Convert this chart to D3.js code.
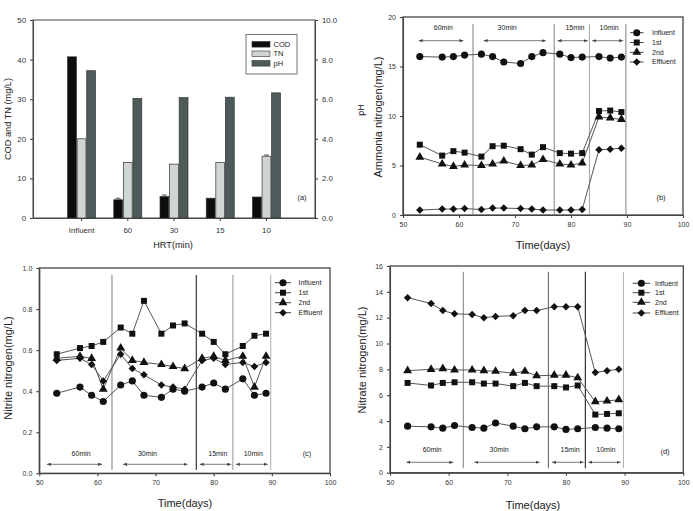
<!DOCTYPE html>
<html>
<head>
<meta charset="utf-8">
<script src="https://cdn.jsdelivr.net/npm/d3@7"></script>
<style>
  body { margin: 0; background: #fff; }
  svg text { font-family: "Liberation Sans", Arial, sans-serif; fill: #222; }
  .ax path, .ax line { stroke: #444; stroke-width: 1.1; }
  .ax text { font-size: 7px; fill: #333; }
  .axa text { font-size: 7.8px; }
</style>
</head>
<body>
<svg id="chart" width="693" height="511"></svg>
<script>
// ---- panel (a) data
const hrtLabels = ['Influent', '60', '30', '15', '10'];
const barSeries = ['COD', 'TN', 'pH'];
const codValues = [40.7, 4.6, 5.4, 5.0, 5.3];
const tnValues = [20.0, 14.0, 13.6, 14.0, 15.6];
const phValues = [7.44, 6.04, 6.08, 6.1, 6.32];
const codErr = [0, 0.4, 0.4, 0, 0];
const tnErr = [0, 0, 0, 0, 0.3];

// ---- time series data (b, c, d)
const days = [53, 57, 59, 61, 64, 66, 68, 71, 73, 75, 78, 80, 82, 85, 87, 89];
const seriesNames = ['Influent', '1st', '2nd', 'Effluent'];

const nh4Influent = [16.0, 15.95, 16.0, 16.15, 16.25, 16.0, 15.45, 15.3, 16.0, 16.4, 16.25, 15.9, 15.95, 16.0, 15.85, 15.95];
const nh4First = [7.1, 6.0, 6.45, 6.3, 5.9, 6.95, 7.0, 6.65, 6.1, 6.85, 6.25, 6.2, 6.25, 10.5, 10.55, 10.4];
const nh4Second = [5.85, 5.15, 4.9, 5.05, 5.0, 5.15, 5.45, 5.0, 5.05, 5.6, 5.15, 5.05, 5.25, 9.9, 9.8, 9.65];
const nh4Effluent = [0.5, 0.6, 0.6, 0.65, 0.55, 0.7, 0.7, 0.65, 0.6, 0.5, 0.5, 0.5, 0.55, 6.6, 6.65, 6.75];

const no2Influent = [0.39, 0.42, 0.38, 0.35, 0.43, 0.45, 0.38, 0.37, 0.41, 0.40, 0.42, 0.44, 0.41, 0.46, 0.38, 0.39];
const no2First = [0.58, 0.61, 0.62, 0.64, 0.71, 0.68, 0.84, 0.68, 0.72, 0.73, 0.68, 0.64, 0.58, 0.62, 0.67, 0.68];
const no2Second = [0.56, 0.57, 0.56, 0.41, 0.61, 0.55, 0.54, 0.53, 0.52, 0.51, 0.56, 0.57, 0.55, 0.57, 0.42, 0.57];
const no2Effluent = [0.55, 0.56, 0.53, 0.45, 0.58, 0.51, 0.48, 0.43, 0.42, 0.41, 0.55, 0.56, 0.53, 0.54, 0.52, 0.54];

const no3Influent = [3.6, 3.55, 3.45, 3.65, 3.5, 3.45, 3.85, 3.6, 3.4, 3.55, 3.55, 3.35, 3.4, 3.5, 3.45, 3.4];
const no3First = [6.95, 6.75, 6.95, 7.0, 7.0, 6.9, 6.9, 6.7, 6.95, 6.7, 6.7, 6.6, 6.75, 4.5, 4.55, 4.6];
const no3Second = [7.9, 8.0, 8.05, 7.95, 7.95, 7.9, 7.85, 7.7, 7.85, 7.5, 7.55, 7.55, 7.35, 5.5, 5.55, 5.65];
const no3Effluent = [13.55, 13.1, 12.55, 12.3, 12.25, 12.0, 12.1, 12.15, 12.55, 12.55, 12.85, 12.85, 12.85, 7.75, 7.9, 8.0];

// HRT periods
const periodBounds = [62.5, 77, 83.3, 89.8];
const periodLabels = ['60min', '30min', '15min', '10min'];
const periodStart = [52.8, 64.4, 77.6, 83.8];
const periodEnd = [60.8, 75.5, 83.0, 89.3];
const periodLabelX = [57.2, 68.6, 80.7, 86.8];

const timeTicks = [50, 60, 70, 80, 90, 100];

const svg = d3.select('#chart');

// arrow heads for the period spans
const defs = svg.append('defs');
['arrEnd', 'arrStart'].forEach((id, i) => {
  defs.append('marker')
    .attr('id', id)
    .attr('viewBox', '0 0 10 10')
    .attr('refX', i === 0 ? 10 : 0).attr('refY', 5)
    .attr('markerWidth', 5).attr('markerHeight', 5)
    .attr('orient', 'auto')
    .append('path')
    .attr('d', i === 0 ? 'M0,1L10,5L0,9z' : 'M10,1L0,5L10,9z')
    .attr('fill', '#444');
});

// ================= panel (a) =================
{
  const box = { left: 33, right: 315, top: 20, bottom: 218 };
  const g = svg.append('g');

  const x = d3.scaleBand().domain(hrtLabels).range([box.left, box.right])
    .paddingInner(0).paddingOuter(0.55);
  const xi = d3.scaleBand().domain(barSeries).range([-14, 14]).paddingInner(0.08);
  const yL = d3.scaleLinear().domain([0, 50]).range([box.bottom, box.top]);
  const yR = d3.scaleLinear().domain([0, 10]).range([box.bottom, box.top]);

  g.append('g').attr('class', 'ax axa')
    .attr('transform', `translate(0,${box.bottom})`)
    .call(d3.axisBottom(x).tickSize(3).tickSizeOuter(0).tickPadding(6));
  g.append('g').attr('class', 'ax axa')
    .attr('transform', `translate(${box.left},0)`)
    .call(d3.axisLeft(yL).tickValues([0, 10, 20, 30, 40, 50]).tickSize(3).tickSizeOuter(0).tickPadding(4));
  g.append('g').attr('class', 'ax axa')
    .attr('transform', `translate(${box.right},0)`)
    .call(d3.axisRight(yR).tickValues([0, 2, 4, 6, 8, 10]).tickFormat(d3.format('.1f')).tickSize(3).tickSizeOuter(0).tickPadding(4));
  g.append('rect')
    .attr('x', box.left).attr('y', box.top)
    .attr('width', box.right - box.left).attr('height', box.bottom - box.top)
    .attr('fill', 'none').attr('stroke', '#555').attr('stroke-width', 1.1);

  const barColors = { COD: '#0c0c0c', TN: '#cfd5d3', pH: '#4e5b5b' };
  const barVals = { COD: codValues, TN: tnValues, pH: phValues };
  const barScale = { COD: yL, TN: yL, pH: yR };

  barSeries.forEach((s) => {
    g.selectAll(null)
      .data(hrtLabels)
      .enter()
      .append('rect')
      .attr('x', (d) => x(d) + x.bandwidth() / 2 + xi(s))
      .attr('y', (d, i) => barScale[s](barVals[s][i]))
      .attr('width', xi.bandwidth())
      .attr('height', (d, i) => box.bottom - barScale[s](barVals[s][i]))
      .attr('fill', barColors[s])
      .attr('stroke', '#333')
      .attr('stroke-width', 0.7);
  });

  // small error bars
  [['COD', codErr, codValues], ['TN', tnErr, tnValues]].forEach(([s, err, vals]) => {
    hrtLabels.forEach((d, i) => {
      if (!err[i]) return;
      const cx = x(d) + x.bandwidth() / 2 + xi(s) + xi.bandwidth() / 2;
      const y1 = yL(vals[i] + err[i]);
      g.append('line').attr('x1', cx).attr('x2', cx)
        .attr('y1', y1).attr('y2', yL(vals[i])).attr('stroke', '#555');
      g.append('line').attr('x1', cx - 2.5).attr('x2', cx + 2.5)
        .attr('y1', y1).attr('y2', y1).attr('stroke', '#555');
    });
  });

  // legend
  g.append('rect').attr('x', 246).attr('y', 34.5).attr('width', 51).attr('height', 39.5)
    .attr('fill', '#fff').attr('stroke', '#666').attr('stroke-width', 0.9);
  barSeries.forEach((s, i) => {
    const ry = 44.3 + i * 9.5;
    g.append('rect').attr('x', 252).attr('y', ry - 2.8).attr('width', 18).attr('height', 5.6)
      .attr('fill', barColors[s]).attr('stroke', '#333').attr('stroke-width', 0.6);
    g.append('text').attr('x', 273.5).attr('y', ry).attr('dy', '0.35em')
      .style('font-size', '7.5px').text(s);
  });

  g.append('text').attr('x', 302).attr('y', 197).attr('text-anchor', 'middle')
    .attr('dy', '0.35em').style('font-size', '7.5px').text('(a)');
  g.append('text').attr('x', 173).attr('y', 248).attr('text-anchor', 'middle')
    .style('font-size', '9.2px').text('HRT(min)');
  g.append('text').attr('transform', 'translate(8,119) rotate(-90)')
    .attr('text-anchor', 'middle').attr('dy', '0.35em')
    .style('font-size', '9.2px').text('COD and TN (mg/L)');
}

// ================= time series panels =================
const symbolTypes = [d3.symbolCircle, d3.symbolSquare, d3.symbolTriangle, d3.symbolSquare];
const symbolSizes = [40, 36, 34, 28];
const symbolRotate = [0, 0, 0, 45];

function marker(g, sIdx, px, py) {
  g.append('path')
    .attr('d', d3.symbol().type(symbolTypes[sIdx]).size(symbolSizes[sIdx])())
    .attr('transform', `translate(${px},${py}) rotate(${symbolRotate[sIdx]})`)
    .attr('fill', '#111');
}

function linePanel(cfg) {
  const { box } = cfg;
  const g = svg.append('g');
  const x = d3.scaleLinear().domain([50, 100]).range([box.left, box.right]);
  const y = d3.scaleLinear().domain(cfg.yDomain).range([box.bottom, box.top]);

  g.append('g').attr('class', 'ax')
    .attr('transform', `translate(0,${box.bottom})`)
    .call(d3.axisBottom(x).tickValues(timeTicks).tickSize(3).tickSizeOuter(0).tickPadding(4));
  g.append('g').attr('class', 'ax')
    .attr('transform', `translate(${box.left},0)`)
    .call(d3.axisLeft(y).tickValues(cfg.yTicks).tickFormat(cfg.yFormat).tickSize(3).tickSizeOuter(0).tickPadding(4));
  g.append('rect')
    .attr('x', box.left).attr('y', box.top)
    .attr('width', box.right - box.left).attr('height', box.bottom - box.top)
    .attr('fill', 'none').attr('stroke', '#444').attr('stroke-width', 1.3);

  // HRT boundaries
  g.selectAll(null).data(periodBounds).enter().append('line')
    .attr('x1', (d) => x(d)).attr('x2', (d) => x(d))
    .attr('y1', cfg.vTop).attr('y2', cfg.vBottom)
    .attr('stroke', (d, i) => cfg.vColors[i]).attr('stroke-width', 1.1);

  // period labels and arrows
  periodLabels.forEach((lab, i) => {
    g.append('text').attr('x', x(periodLabelX[i])).attr('y', cfg.labelY)
      .attr('text-anchor', 'middle').attr('dy', '0.35em')
      .style('font-size', '7px').text(lab);
    g.append('line')
      .attr('x1', x(i === 0 && cfg.firstStart ? cfg.firstStart : periodStart[i]))
      .attr('x2', x(periodEnd[i]))
      .attr('y1', cfg.arrowY).attr('y2', cfg.arrowY)
      .attr('stroke', '#555').attr('stroke-width', 0.8)
      .attr('marker-start', 'url(#arrStart)').attr('marker-end', 'url(#arrEnd)');
  });

  // series
  const line = d3.line().x((d, i) => x(days[i])).y((d) => y(d));
  cfg.series.forEach((vals) => {
    g.append('path').datum(vals).attr('d', line)
      .attr('fill', 'none').attr('stroke', '#555').attr('stroke-width', 1);
  });
  cfg.series.forEach((vals, s) => {
    vals.forEach((v, i) => marker(g, s, x(days[i]), y(v)));
  });

  // legend
  seriesNames.forEach((name, s) => {
    const ry = cfg.legend.rows[s];
    g.append('line').attr('x1', cfg.legend.x0).attr('x2', cfg.legend.x1)
      .attr('y1', ry).attr('y2', ry).attr('stroke', '#444').attr('stroke-width', 1);
    marker(g, s, (cfg.legend.x0 + cfg.legend.x1) / 2, ry);
    g.append('text').attr('x', cfg.legend.tx).attr('y', ry).attr('dy', '0.35em')
      .style('font-size', '7px').text(name);
  });

  g.append('text').attr('x', cfg.tag[0]).attr('y', cfg.tag[1]).attr('text-anchor', 'middle')
    .attr('dy', '0.35em').style('font-size', '7.5px').text(cfg.tagText);
  g.append('text').attr('x', cfg.xTitle[0]).attr('y', cfg.xTitle[1]).attr('text-anchor', 'middle')
    .style('font-size', '11px').text('Time(days)');
  g.append('text').attr('transform', `translate(${cfg.yTitle[0]},${cfg.yTitle[1]}) rotate(-90)`)
    .attr('text-anchor', 'middle').attr('dy', '0.35em')
    .style('font-size', '11px').text(cfg.yTitleText);
  return g;
}

// (b) ammonia
const gb = linePanel({
  box: { left: 403, right: 683, top: 17, bottom: 215 },
  yDomain: [0, 20], yTicks: [0, 5, 10, 15, 20], yFormat: d3.format('d'),
  series: [nh4Influent, nh4First, nh4Second, nh4Effluent],
  vColors: ['#8a8a8a', '#8a8a8a', '#aaaaaa', '#8a8a8a'],
  vTop: 24, vBottom: 214,
  labelY: 27.3, arrowY: 40.7,
  legend: { x0: 630, x1: 643.5, tx: 652, rows: [32.7, 42.5, 52.3, 62] },
  tag: [661, 197], tagText: '(b)',
  xTitle: [543, 249], yTitle: [378, 117], yTitleText: 'Ammonia nitrogen(mg/L)',
});
gb.append('text').attr('transform', 'translate(361,110) rotate(-90)')
  .attr('text-anchor', 'middle').attr('dy', '0.35em')
  .style('font-size', '9px').text('pH');

// (c) nitrite
linePanel({
  box: { left: 39.3, right: 330, top: 268, bottom: 473.3 },
  yDomain: [0, 1], yTicks: [0, 0.2, 0.4, 0.6, 0.8, 1.0], yFormat: d3.format('.1f'),
  series: [no2Influent, no2First, no2Second, no2Effluent],
  vColors: ['#8a8a8a', '#222222', '#9a9a9a', '#b5b5b5'],
  vTop: 275, vBottom: 470,
  labelY: 453.5, arrowY: 464.3, firstStart: 51.3,
  legend: { x0: 275, x1: 291, tx: 298.5, rows: [282.7, 292.7, 302.7, 312.7] },
  tag: [307, 453.5], tagText: '(c)',
  xTitle: [185, 507], yTitle: [8, 368], yTitleText: 'Nitrite nitrogen(mg/L)',
});

// (d) nitrate
linePanel({
  box: { left: 390, right: 683.3, top: 266, bottom: 472.7 },
  yDomain: [0, 16], yTicks: [0, 2, 4, 6, 8, 10, 12, 14, 16], yFormat: d3.format('d'),
  series: [no3Influent, no3First, no3Second, no3Effluent],
  vColors: ['#8a8a8a', '#666666', '#222222', '#b5b5b5'],
  vTop: 271.7, vBottom: 468.3,
  labelY: 450, arrowY: 462.3,
  legend: { x0: 632.7, x1: 650, tx: 655, rows: [283.3, 292.7, 302.3, 313] },
  tag: [665, 451], tagText: '(d)',
  xTitle: [533, 509], yTitle: [362, 360], yTitleText: 'Nitrate nitrogen(mg/L)',
});
</script>
</body>
</html>
